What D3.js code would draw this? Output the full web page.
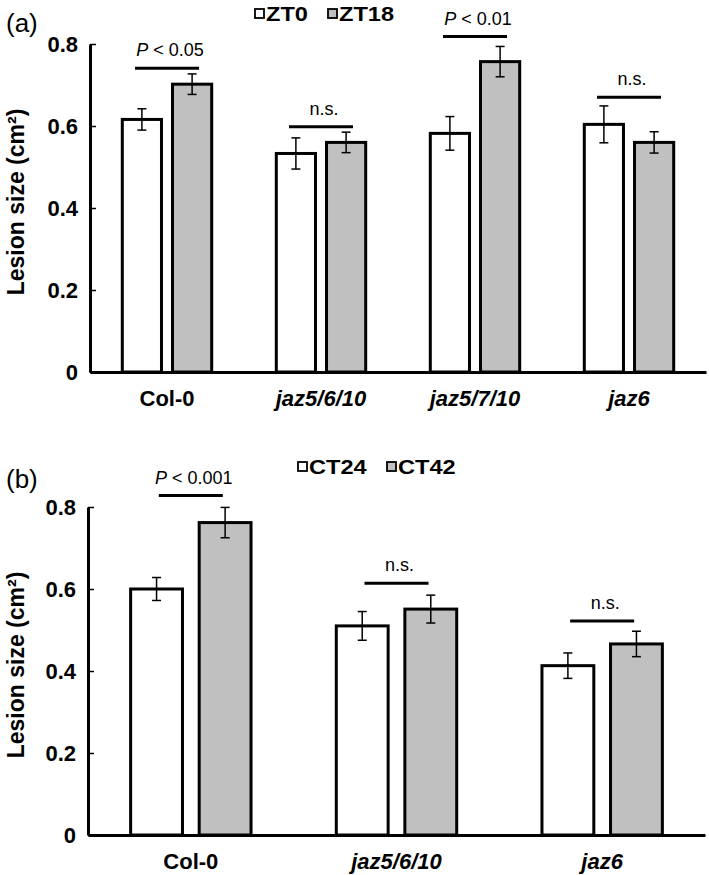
<!DOCTYPE html>
<html>
<head>
<meta charset="utf-8">
<script src="https://cdn.jsdelivr.net/npm/d3@7"></script>
<style>
  html, body { margin: 0; padding: 0; background: #fff; }
  svg { display: block; }
  text { font-family: "Liberation Sans", Arial, Helvetica, sans-serif; fill: #000; }
</style>
</head>
<body>
<svg id="chart" width="709" height="875"></svg>
<script>
// ---------- Data ----------
const categoriesA = ["Col-0", "jaz5/6/10", "jaz5/7/10", "jaz6"];
const seriesA = ["ZT0", "ZT18"];
const zt0 = [0.616, 0.533, 0.582, 0.604];
const zt0Err = [0.026, 0.038, 0.041, 0.045];
const zt18 = [0.702, 0.560, 0.757, 0.560];
const zt18Err = [0.025, 0.025, 0.037, 0.026];
const sigLabelsA = ["P < 0.05", "n.s.", "P < 0.01", "n.s."];
const sigLevelA = [0.741, 0.598, 0.818, 0.670];

const categoriesB = ["Col-0", "jaz5/6/10", "jaz6"];
const seriesB = ["CT24", "CT42"];
const ct24 = [0.600, 0.510, 0.413];
const ct24Err = [0.028, 0.035, 0.031];
const ct42 = [0.762, 0.551, 0.466];
const ct42Err = [0.037, 0.034, 0.031];
const sigLabelsB = ["P < 0.001", "n.s.", "n.s."];
const sigLevelB = [0.828, 0.614, 0.522];

const yTicks = [0, 0.2, 0.4, 0.6, 0.8];
const yTickLabels = ["0", "0.2", "0.4", "0.6", "0.8"];
const yTitle = "Lesion size (cm²)";
const seriesFill = ["#ffffff", "#c0c0c0"];

// ---------- Drawing ----------
const svg = d3.select("#chart");

function panel(cfg) {
  const g = svg.append("g");
  const y = d3.scaleLinear().domain([0, 0.8]).range([cfg.y0, cfg.y1]);
  const x0 = d3.scaleBand().domain(cfg.categories).range([cfg.xL, cfg.xR])
    .paddingInner(0.4).paddingOuter(0.2);
  const x1 = d3.scaleBand().domain(cfg.series).range([0, x0.bandwidth()])
    .paddingInner(cfg.innerPad);
  const color = d3.scaleOrdinal().domain(cfg.series).range(seriesFill);

  const rows = [];
  cfg.categories.forEach((c, i) => {
    cfg.series.forEach((s, j) => {
      rows.push({ cat: c, ser: s, v: cfg.values[j][i], e: cfg.errors[j][i] });
    });
  });

  // bars
  const sw = 3;
  g.append("g").selectAll("rect").data(rows).join("rect")
    .attr("x", d => x0(d.cat) + x1(d.ser) + sw / 2)
    .attr("width", x1.bandwidth() - sw)
    .attr("y", d => y(d.v))
    .attr("height", d => y(0) - y(d.v))
    .attr("fill", d => color(d.ser))
    .attr("stroke", "#000")
    .attr("stroke-width", sw);

  // error bars
  const eg = g.append("g").attr("stroke", "#000").attr("stroke-width", 1.5);
  rows.forEach(d => {
    const cx = x0(d.cat) + x1(d.ser) + x1.bandwidth() / 2;
    const yt = y(d.v + d.e), yb = y(d.v - d.e);
    eg.append("line").attr("x1", cx).attr("x2", cx).attr("y1", yt).attr("y2", yb);
    eg.append("line").attr("x1", cx - 4.5).attr("x2", cx + 4.5).attr("y1", yt).attr("y2", yt);
    eg.append("line").attr("x1", cx - 4.5).attr("x2", cx + 4.5).attr("y1", yb).attr("y2", yb);
  });

  // y axis
  const yAxis = d3.axisLeft(y).tickValues(yTicks)
    .tickFormat((d, i) => yTickLabels[i])
    .tickSizeInner(-6).tickSizeOuter(0).tickPadding(12);
  const ya = g.append("g").attr("transform", `translate(${cfg.xL},0)`).call(yAxis);
  ya.select(".domain").attr("stroke-width", 3);
  ya.selectAll(".tick line").attr("stroke-width", 1.5);
  ya.selectAll(".tick text")
    .attr("font-size", 22).attr("font-weight", "bold")
    .attr("font-family", "Liberation Sans, Arial, sans-serif");

  // x axis
  const xAxis = d3.axisBottom(x0).tickSize(0).tickSizeOuter(0).tickPadding(18);
  const xa = g.append("g").attr("transform", `translate(0,${y(0)})`).call(xAxis);
  xa.select(".domain").attr("stroke-width", 3);
  xa.selectAll(".tick text")
    .attr("font-size", 22).attr("font-weight", "bold")
    .attr("font-family", "Liberation Sans, Arial, sans-serif")
    .attr("font-style", d => d === "Col-0" ? "normal" : "italic");

  // y title
  g.append("text")
    .attr("transform", `translate(${cfg.titleX},${(y(0) + y(0.8)) / 2 - 6}) rotate(-90)`)
    .attr("text-anchor", "middle")
    .attr("font-size", 23).attr("font-weight", "bold")
    .text(yTitle);

  // panel letter
  g.append("text").attr("x", 6).attr("y", cfg.letterY)
    .attr("font-size", 26).text(cfg.letter);

  // significance
  cfg.categories.forEach((c, i) => {
    const cx = x0(c) + x0.bandwidth() / 2;
    const ly = y(cfg.sigLevels[i]);
    g.append("line").attr("x1", cx - 32).attr("x2", cx + 32)
      .attr("y1", ly).attr("y2", ly)
      .attr("stroke", "#000").attr("stroke-width", 3);
    const t = g.append("text").attr("x", cx + 3).attr("y", ly - 12)
      .attr("text-anchor", "middle").attr("font-size", 18);
    const lab = cfg.sigLabels[i];
    if (lab.startsWith("P")) {
      t.append("tspan").attr("font-style", "italic").text("P");
      t.append("tspan").text(lab.slice(1));
    } else {
      t.text(lab);
    }
  });

  // legend
  const lg = g.append("g");
  cfg.series.forEach((s, j) => {
    const lx = cfg.legendX[j];
    lg.append("rect").attr("x", lx).attr("y", cfg.legendY - 12)
      .attr("width", 9).attr("height", 9)
      .attr("fill", color(s)).attr("stroke", "#000").attr("stroke-width", 1.8);
    lg.append("text")
      .attr("transform", `translate(${lx + 11},${cfg.legendY}) scale(1.18,1)`)
      .attr("font-size", 20).attr("font-weight", "bold").text(s);
  });
}

panel({
  categories: categoriesA, series: seriesA,
  values: [zt0, zt18], errors: [zt0Err, zt18Err],
  sigLabels: sigLabelsA, sigLevels: sigLevelA,
  y0: 372, y1: 44, xL: 90, xR: 706, innerPad: 0.16,
  titleX: 24, letter: "(a)", letterY: 32,
  legendX: [255, 328], legendY: 21
});

panel({
  categories: categoriesB, series: seriesB,
  values: [ct24, ct42], errors: [ct24Err, ct42Err],
  sigLabels: sigLabelsB, sigLevels: sigLevelB,
  y0: 835, y1: 507, xL: 88, xR: 705, innerPad: 0.2,
  titleX: 24, letter: "(b)", letterY: 488,
  legendX: [298, 387], legendY: 474
});
</script>
</body>
</html>
